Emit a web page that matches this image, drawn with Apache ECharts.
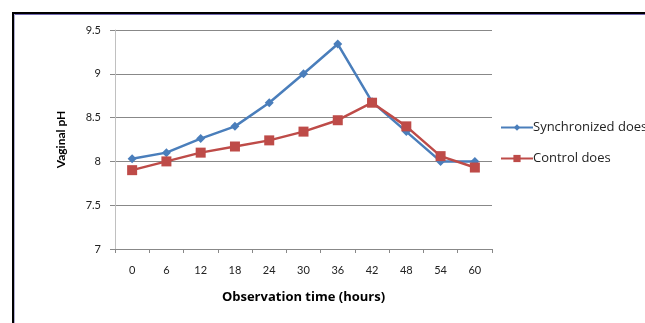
<!DOCTYPE html>
<html>
<head>
<meta charset="utf-8">
<script src="https://cdn.jsdelivr.net/npm/echarts@6/dist/echarts.min.js"></script>
<style>
html,body{margin:0;padding:0;background:#fff;}
#c{width:645px;height:323px;}
</style>
</head>
<body>
<div id="c"></div>
<script>
var categories = ['0','6','12','18','24','30','36','42','48','54','60'];
var synchronized = [8.03, 8.10, 8.26, 8.40, 8.67, 9.00, 9.34, 8.68, 8.34, 8.00, 8.00];
var control = [7.90, 8.00, 8.10, 8.17, 8.24, 8.34, 8.47, 8.67, 8.40, 8.06, 7.93];
var seriesNames = ['Synchronized does', 'Control does'];
var yTicks = {min: 7, max: 9.5, interval: 0.5};

var chart = echarts.init(document.getElementById('c'), null, {renderer: 'canvas'});
var font = 'Lato, "Open Sans", sans-serif';
var wide = '"Open Sans", Lato, sans-serif';
chart.setOption({
  animation: false,
  backgroundColor: '#fff',
  textStyle: {fontFamily: font},
  graphic: [
    {type: 'line', shape: {x1: 13, y1: 13, x2: 700, y2: 13}, style: {stroke: '#000', lineWidth: 2}},
    {type: 'line', shape: {x1: 13, y1: 12, x2: 13, y2: 330}, style: {stroke: '#000', lineWidth: 2}},
    {type: 'line', shape: {x1: 14, y1: 14.5, x2: 700, y2: 14.5}, style: {stroke: '#7068b0', lineWidth: 1}},
    {type: 'line', shape: {x1: 14.5, y1: 14, x2: 14.5, y2: 330}, style: {stroke: '#b0aed0', lineWidth: 1}}
  ],
  legend: [
    {
      data: [seriesNames[0]],
      left: 495, top: 116, orient: 'vertical',
      itemWidth: 32, itemHeight: 8, itemGap: 2,
      textStyle: {fontFamily: wide, fontSize: 13, color: '#222', padding: [0,0,0,-5]}
    },
    {
      data: [seriesNames[1]],
      left: 495, top: 147, orient: 'vertical',
      itemWidth: 32, itemHeight: 9, itemGap: 2,
      textStyle: {fontFamily: wide, fontSize: 13, color: '#222', padding: [0,0,0,-5]}
    }
  ],
  grid: {left: 115, right: 153, top: 30, bottom: 74, containLabel: false},
  xAxis: {
    type: 'category',
    data: categories,
    boundaryGap: true,
    name: 'Observation time (hours)',
    nameLocation: 'middle',
    nameGap: 42,
    nameTextStyle: {fontFamily: wide, fontSize: 13, fontWeight: 'bold', color: '#000'},
    axisLine: {lineStyle: {color: '#888', width: 1}},
    axisTick: {show: true, length: 4, inside: false, lineStyle: {color: '#888'}},
    axisLabel: {fontFamily: font, fontSize: 11, color: '#222', margin: 16}
  },
  yAxis: {
    type: 'value',
    min: yTicks.min, max: yTicks.max, interval: yTicks.interval,
    name: 'Vaginal pH',
    nameLocation: 'middle',
    nameGap: 48,
    nameTextStyle: {fontFamily: font, fontSize: 12, fontWeight: 'bold', color: '#000'},
    axisLine: {show: true, lineStyle: {color: '#c0c0c0', width: 1}},
    axisTick: {show: true, length: 5, lineStyle: {color: '#888'}},
    axisLabel: {fontFamily: font, fontSize: 11, color: '#222', margin: 14,
      formatter: function (v) { return String(Math.round(v * 10) / 10); }},
    splitLine: {show: true, lineStyle: {color: '#888', width: 1}}
  },
  series: [
    {
      name: seriesNames[0], type: 'line', data: synchronized,
      symbol: 'diamond', symbolSize: 9,
      itemStyle: {color: '#4a7ebb'},
      lineStyle: {color: '#4a7ebb', width: 2.5}
    },
    {
      name: seriesNames[1], type: 'line', data: control,
      symbol: 'rect', symbolSize: 10,
      itemStyle: {color: '#be4b48'},
      lineStyle: {color: '#be4b48', width: 2.5}
    }
  ]
});
</script>
</body>
</html>
